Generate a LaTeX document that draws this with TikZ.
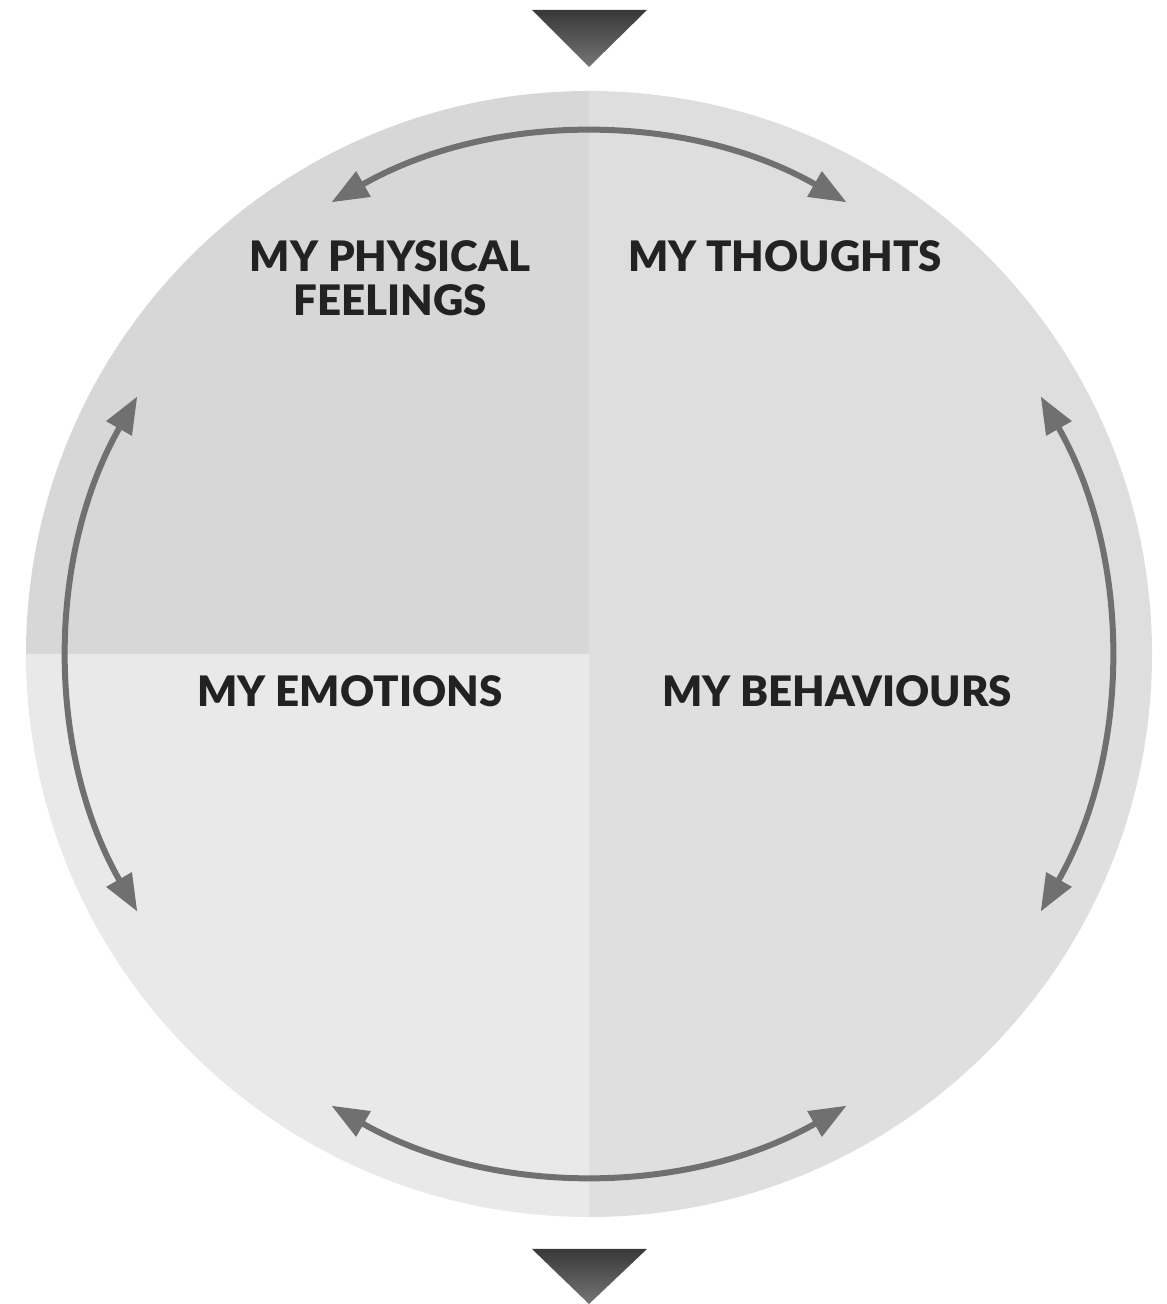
\documentclass[tikz,border=0pt]{standalone}
\usepackage{fontspec}
\setmainfont{Lato}[BoldFont={Lato Black}]
\usetikzlibrary{arrows.meta,calc}
\definecolor{qTL}{HTML}{D7D7D7}
\definecolor{qTR}{HTML}{DEDEDE}
\definecolor{qBL}{HTML}{E9E9E9}
\definecolor{qBR}{HTML}{DFDFDF}
\definecolor{arrgray}{HTML}{707070}
\definecolor{txt}{HTML}{222222}
\tikzset{
  cyc/.style={draw=arrgray, line width=6pt, {Triangle[length=37pt,width=28pt]}-{Triangle[length=37pt,width=28pt]}},
  lbl/.style={text=txt, font=\fontsize{42}{44}\selectfont\bfseries, align=center, anchor=base, inner sep=0pt},
  tri/.style={top color=black!78, bottom color=black!54}
}
\begin{document}
\begin{tikzpicture}[x=1pt,y=1pt]
\useasboundingbox (0,0) rectangle (1167,1304);
\coordinate (c) at (589,650);
\def\R{563}
\fill[qTL] (c) -- ++(180:\R) arc[start angle=180,end angle=90,radius=\R] -- cycle;
\fill[qTR] (c) -- ++(90:\R) arc[start angle=90,end angle=0,radius=\R] -- cycle;
\fill[qBR] (c) -- ++(0:\R) arc[start angle=0,end angle=-90,radius=\R] -- cycle;
\fill[qBL] (c) -- ++(-90:\R) arc[start angle=-90,end angle=-180,radius=\R] -- cycle;
% cycle arrows
\def\r{520}
\coordinate (t1) at ($(c)+(60.3:\r)$);
\coordinate (l1) at ($(c)+(150.3:\r)$);
\coordinate (b1) at ($(c)+(240.3:\r)$);
\coordinate (r1) at ($(c)+(330.3:\r)$);
\draw[cyc] (t1) arc[start angle=60.3,end angle=119.7,radius=\r];
\draw[cyc] (l1) arc[start angle=150.3,end angle=209.7,radius=\r];
\draw[cyc] (b1) arc[start angle=240.3,end angle=299.7,radius=\r];
\draw[cyc] (r1) arc[start angle=330.3,end angle=389.7,radius=\r];
% labels
\node[lbl] (pf) at (390,988) {MY PHYSICAL\\FEELINGS};
\node[lbl] (th) at (785,1032) {MY THOUGHTS};
\node[lbl] (em) at (350,597) {MY EMOTIONS};
\node[lbl] (be) at (837,597) {MY BEHAVIOURS};
% triangles
\shade[tri] (532,1294) -- (647,1294) -- (589,1237) -- cycle;
\shade[tri] (532,55) -- (647,55) -- (589,0) -- cycle;
\end{tikzpicture}
\end{document}
